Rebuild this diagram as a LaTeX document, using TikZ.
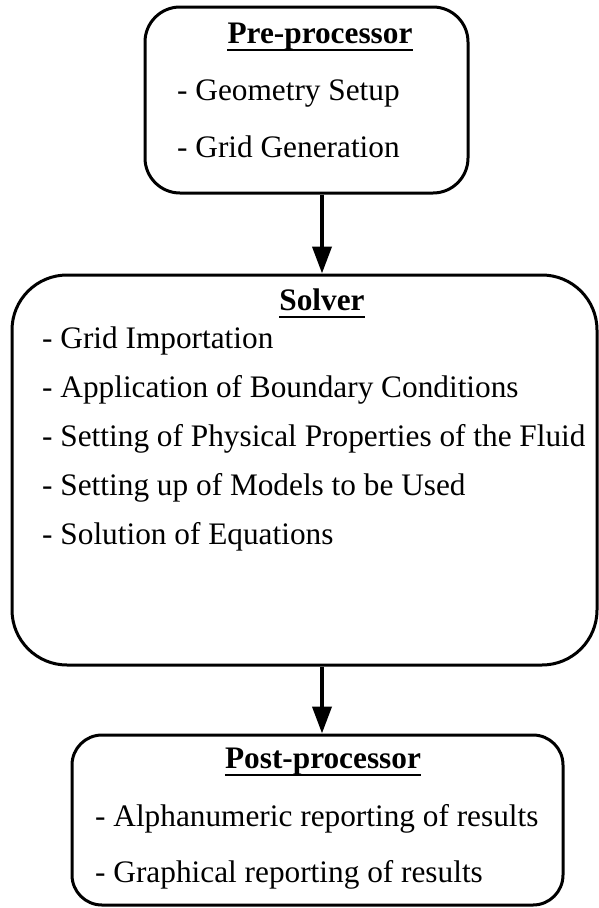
\documentclass[tikz,border=0pt]{standalone}
\usepackage{fontspec}
\setmainfont{Liberation Serif}
\usetikzlibrary{arrows.meta}

\newcommand{\boxfont}{\fontsize{31.3}{37}\selectfont}

\tikzset{
	stage/.style={draw, line width=3pt, inner sep=0pt},
	head/.style={font=\boxfont\bfseries, anchor=base, inner sep=0pt},
	item/.style={font=\boxfont, anchor=base west, inner sep=0pt},
	uline/.style={line width=2.5pt},
	flow/.style={line width=4pt, -{Triangle[length=27pt,width=19pt]}}
}

\begin{document}
\begin{tikzpicture}[x=1pt, y=-1pt]
	\useasboundingbox (0,0) rectangle (598,908);
	
	% Pre-processor
	\node[stage, rounded corners=35pt, minimum width=323pt, minimum height=186pt] (pre) at (306.5,100) {};
	\node[head] (pretitle) at (320,43) {Pre-processor};
	\draw[uline] ([yshift=-7pt]pretitle.base west) -- ([yshift=-7pt]pretitle.base east);
	\node[item] (geom) at (177,100) {- Geometry Setup};
	\node[item] (gridgen) at (177,157) {- Grid Generation};
	
	% Solver
	\node[stage, rounded corners=55pt, minimum width=585pt, minimum height=390pt] (solver) at (304.5,470) {};
	\node[head] (solvertitle) at (322,310) {Solver};
	\draw[uline] ([yshift=-7pt]solvertitle.base west) -- ([yshift=-7pt]solvertitle.base east);
	\node[item] (gridimp) at (42,348) {- Grid Importation};
	\node[item] (bc) at (42,397) {- Application of Boundary Conditions};
	\node[item] (props) at (42,446) {- Setting of Physical Properties of the Fluid};
	\node[item] (models) at (42,495) {- Setting up of Models to be Used};
	\node[item] (eqns) at (42,544) {- Solution of Equations};
	
	% Post-processor
	\node[stage, rounded corners=30pt, minimum width=491pt, minimum height=170pt] (post) at (317.5,820) {};
	\node[head] (posttitle) at (323,768) {Post-processor};
	\draw[uline] ([yshift=-7pt]posttitle.base west) -- ([yshift=-7pt]posttitle.base east);
	\node[item] (alpha) at (95,826) {- Alphanumeric reporting of results};
	\node[item] (graph) at (95,882) {- Graphical reporting of results};
	
	% Arrows
	\draw[flow] (solvertitle.center |- pre.south) -- (solvertitle.center |- solver.north);
	\draw[flow] (solvertitle.center |- solver.south) -- (solvertitle.center |- post.north);
\end{tikzpicture}
\end{document}
